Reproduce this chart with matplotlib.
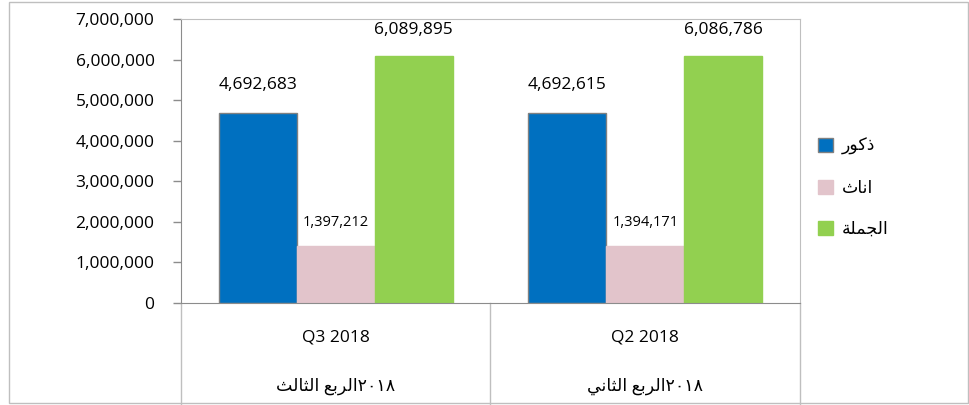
import matplotlib.pyplot as plt
import numpy as np
from matplotlib.patches import Rectangle

plt.rcParams['font.family'] = ['Open Sans', 'DejaVu Sans']

categories = ["Q3 2018", "Q2 2018"]
quarters_ar = ["الربع الثالث", "الربع الثاني"]
year_ar = "٢٠١٨"
series = ["ذكور", "اناث", "الجملة"]
males = [4692683, 4692615]
females = [1397212, 1394171]
total = [6089895, 6086786]
colors = ["#0070C0", "#E2C4CB", "#92D050"]
yticks = list(range(0, 7000001, 1000000))

# matplotlib does no arabic shaping, so pick presentation forms by hand
# (isolated, final, initial, medial)
FORMS = {
    'ا': ('\ufe8d', '\ufe8e'),
    'ب': ('\ufe8f', '\ufe90', '\ufe91', '\ufe92'),
    'ة': ('\ufe93', '\ufe94'),
    'ث': ('\ufe99', '\ufe9a', '\ufe9b', '\ufe9c'),
    'ج': ('\ufe9d', '\ufe9e', '\ufe9f', '\ufea0'),
    'ذ': ('\ufeab', '\ufeac'),
    'ر': ('\ufead', '\ufeae'),
    'ع': ('\ufec9', '\ufeca', '\ufecb', '\ufecc'),
    'ك': ('\ufed9', '\ufeda', '\ufedb', '\ufedc'),
    'ل': ('\ufedd', '\ufede', '\ufedf', '\ufee0'),
    'م': ('\ufee1', '\ufee2', '\ufee3', '\ufee4'),
    'ن': ('\ufee5', '\ufee6', '\ufee7', '\ufee8'),
    'و': ('\ufeed', '\ufeee'),
    'ي': ('\ufef1', '\ufef2', '\ufef3', '\ufef4'),
}


def shape(s):
    out = []
    for i, ch in enumerate(s):
        f = FORMS.get(ch)
        if f is None:
            out.append(ch)
            continue
        prev = FORMS.get(s[i-1]) if i > 0 else None
        nxt = FORMS.get(s[i+1]) if i + 1 < len(s) else None
        jp = prev is not None and len(prev) == 4
        jn = len(f) == 4 and nxt is not None
        if jp and jn:
            out.append(f[3])
        elif jp:
            out.append(f[1])
        elif jn:
            out.append(f[2])
        else:
            out.append(f[0])
    return ''.join(out[::-1])


fig = plt.figure(figsize=(9.7, 4.05), dpi=100)
ax = fig.add_axes([181/970, 1-303/405, (800-181)/970, (303-19)/405])

x = np.arange(len(categories))
w = 0.252
data = [males, females, total]
offsets = [20, 17, 18.5]
for i, vals in enumerate(data):
    ec = '#808080' if i == 0 else colors[i]
    ax.bar(x + (i-1)*w, vals, w, color=colors[i], edgecolor=ec, linewidth=1)
    for xi, v in zip(x, vals):
        ax.annotate(f"{v:,}", (xi + (i-1)*w, v), xytext=(0, offsets[i]),
                    textcoords='offset points', ha='center', va='center',
                    fontsize=10.5 if i == 1 else 12.5)

ax.set_xlim(-0.5, 1.5)
ax.set_ylim(0, 7000000)
ax.set_yticks(yticks)
ax.set_yticklabels([f"{t:,}" for t in yticks])
ax.set_xticks([])
ax.tick_params(axis='y', length=6, width=1, color='#8c8c8c', pad=13, labelsize=12.5)
ax.spines['left'].set_color('#8c8c8c')
ax.spines['bottom'].set_color('#8c8c8c')
ax.spines['top'].set_color('#bfbfbf')
ax.spines['right'].set_color('#bfbfbf')

tr = ax.get_xaxis_transform()
for xv in [-0.5, 0.5, 1.5]:
    ax.plot([xv, xv], [0, -0.355], transform=tr, clip_on=False,
            color='#bfbfbf', lw=1)
for i in range(len(categories)):
    ax.text(i, -0.12, categories[i], transform=tr, ha='center', va='center', fontsize=12.5)
    ax.text(i, -0.295, shape(quarters_ar[i]) + year_ar, transform=tr,
            ha='center', va='center', fontsize=12.5)

handles = [Rectangle((0, 0), 1, 1, facecolor=colors[i],
                     edgecolor='#808080' if i == 0 else colors[i]) for i in range(3)]
fig.legend(handles, [shape(s) for s in series], loc='center left',
           bbox_to_anchor=(818/970, 1-188/405), frameon=False, fontsize=12.5,
           handlelength=0.85, handleheight=0.85, handletextpad=0.5,
           labelspacing=1.4, borderpad=0, borderaxespad=0)

fig.add_artist(Rectangle((9/970, 2/405), 959/970, 401/405, transform=fig.transFigure,
                         fill=False, edgecolor='#bfbfbf', lw=1))

fig.savefig('out.png', dpi=100)
